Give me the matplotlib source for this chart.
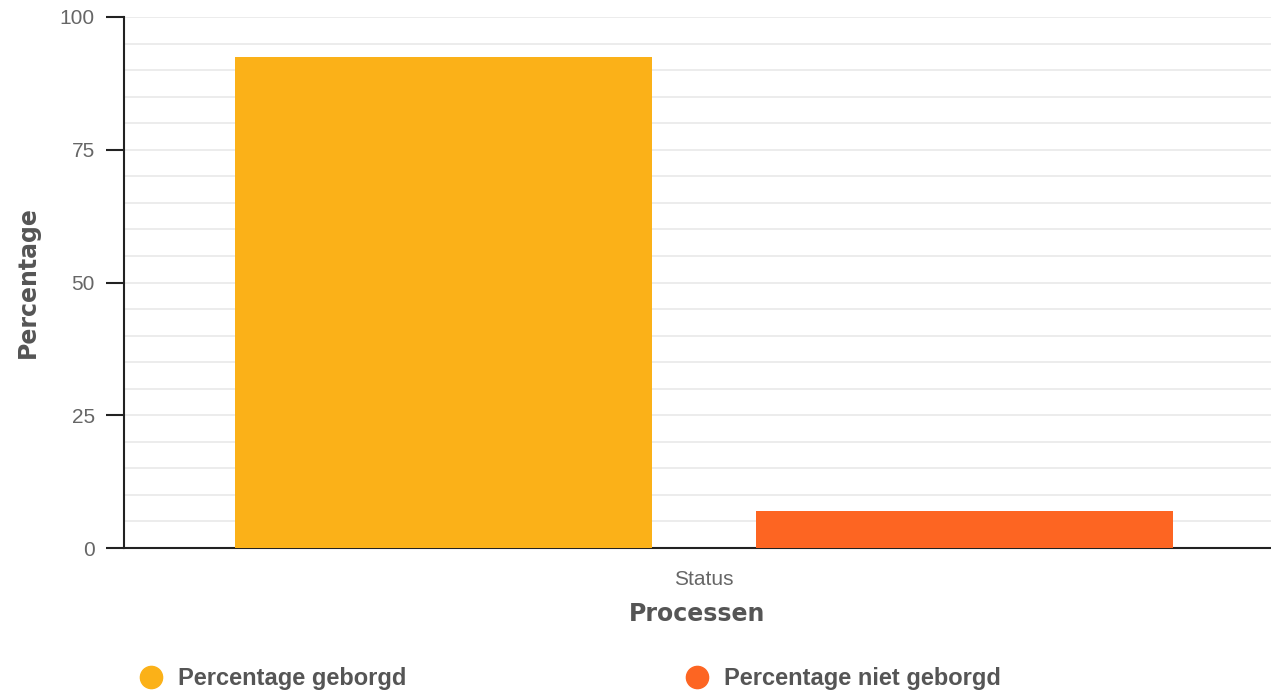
import matplotlib.pyplot as plt
from matplotlib.lines import Line2D

# data
category = 'Status'
series = ['Percentage geborgd', 'Percentage niet geborgd']
values = [92.5, 6.9]
colors = ['#fbb118', '#fd6522']
offsets = [-0.25, 0.25]
yticks = [0, 25, 50, 75, 100]

fig = plt.figure(figsize=(12.71, 6.94), dpi=100)
ax = fig.add_axes([124 / 1271, 1 - 548 / 694, 1 - 124 / 1271, (548 - 17) / 694])

for off, val, col in zip(offsets, values, colors):
    ax.bar(off, val, width=0.4, color=col, zorder=3)

ax.set_xlim(-0.556, 0.544)
ax.set_ylim(0, 100)

# grid: lines every 5, labelled ticks every 25
ax.set_yticks(yticks)
ax.set_yticks(range(0, 101, 5), minor=True)
ax.grid(True, which='both', axis='y', color='#ebebeb', linewidth=1.3, zorder=0)
ax.tick_params(axis='y', which='minor', length=0)
ax.tick_params(axis='y', which='major', length=13, width=1.5, color='#222222',
               pad=8, labelsize=15, labelcolor='#666666')
ax.set_xticks([0])
ax.set_xticklabels([category], fontfamily='Liberation Sans')
ax.tick_params(axis='x', length=0, pad=16, labelsize=15, labelcolor='#666666')
for lab in ax.get_yticklabels():
    lab.set_fontfamily('Liberation Sans')

for side in ['top', 'right']:
    ax.spines[side].set_visible(False)
for side in ['left', 'bottom']:
    ax.spines[side].set_linewidth(1.5)
    ax.spines[side].set_color('#222222')

ax.set_ylabel('Percentage', fontfamily='DejaVu Sans', fontweight='bold',
              fontsize=17, color='#555555', labelpad=14)
ax.set_xlabel('Processen', fontfamily='DejaVu Sans', fontweight='bold',
              fontsize=17, color='#555555', labelpad=9)

# legend, one entry per column
legend_x = [127 / 1271, 673 / 1271]
for name, col, lx in zip(series, colors, legend_x):
    h = Line2D([], [], marker='o', linestyle='none', markersize=16,
               markerfacecolor=col, markeredgecolor=col)
    leg = fig.legend([h], [name], loc='center left', bbox_to_anchor=(lx, 1 - 679 / 694),
                     frameon=False, borderpad=0, handlelength=1, handletextpad=0.65,
                     prop={'family': 'Liberation Sans', 'weight': 'bold', 'size': 17})
    for t in leg.get_texts():
        t.set_color('#555555')

fig.savefig('out.png', dpi=100)
